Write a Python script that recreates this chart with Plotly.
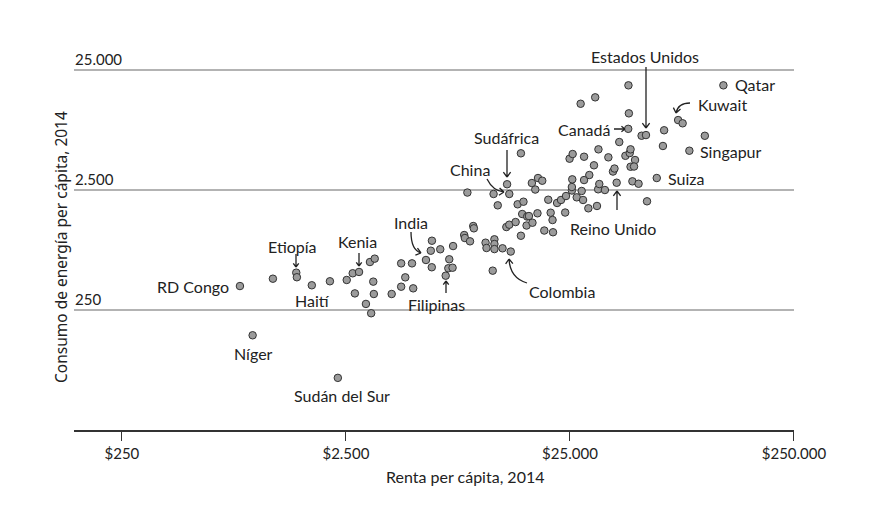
import math
import plotly.graph_objects as go

# Renta per cápita (USD) y consumo de energía per cápita (kg equiv. petróleo), 2014
renta = [
    841, 958, 1180, 1500, 1510, 1760, 2120, 2300, 2520, 2680,
    2860, 3200, 3360, 3310, 2740, 3330, 3070, 3240, 4000, 4410,
    4990, 4600, 4410, 4930, 5690, 6040, 5980, 6050, 6590, 7230,
    7160, 7480, 6970, 7520, 8430, 8490, 8950, 9250, 9310, 8710,
    10500, 10600, 11500, 11500, 11500, 12500, 13600, 11300, 11400, 11900,
    13100, 13400, 13000, 13400, 14300, 15100, 15100, 14600, 15500, 15300,
    16100, 16400, 17900, 16000, 17000, 16900, 17500, 18000, 18800, 19200,
    21000, 20000, 20500, 20900, 21900, 22800, 24000, 23800, 25500, 25500,
    26800, 28200, 28600, 25600, 30200, 33000, 24900, 25700, 28900, 32000,
    33500, 37100, 41500, 28900, 30500, 33400, 33800, 35800, 38900, 39500,
    40400, 44200, 46200, 46600, 48800, 46600, 48300, 47500, 50600, 55200,
    61000, 45600, 27900, 32400, 45800, 45500, 52200, 54600, 65800, 65000,
    76000, 79600, 100000, 85300, 121000,
]
consumo = [
    396, 154, 456, 512, 469, 402, 434, 68, 445, 506,
    519, 628, 670, 431, 344, 340, 281, 235, 340, 391,
    379, 468, 612, 612, 653, 568, 780, 945, 802, 662,
    557, 563, 483, 853, 1054, 995, 934, 1253, 1199, 2382,
    910, 822, 971, 887, 805, 817, 768, 532, 2317, 1864,
    2793, 2317, 1229, 1285, 1352, 1040, 5058, 1901, 1998, 1578,
    1503, 1517, 1600, 1265, 1335, 2858, 2523, 3148, 2989, 1149,
    1112, 2075, 1618, 1406, 1950, 2065, 2228, 1623, 2477, 2649,
    2173, 2455, 2065, 3069, 1760, 1841, 4560, 4989, 4738, 4018,
    5458, 4683, 6281, 3027, 3334, 2535, 2805, 2500, 3565, 3776,
    2877, 4822, 5082, 5458, 4446, 3908, 3926, 2954, 2821, 2014,
    3148, 18640, 13092, 14808, 10889, 8091, 7087, 7178, 7870, 5821,
    9572, 8995, 7079, 5316, 18640,
]

x_ticks = [250, 2500, 25000, 250000]
x_ticktext = ["$250", "$2.500", "$25.000", "$250.000"]
y_ticks = [25, 250, 2500, 25000]
y_ticktext = ["25", "250", "2.500", "25.000"]

W, H = 869, 508
L, R, T, B = 74, 75, 50, 78
FONT = "Lato, 'Noto Sans', sans-serif"
INK = "#222222"


def pp(px, py):
    # pixel -> paper coordinates
    return (px - L) / (W - L - R), (H - B - py) / (H - T - B)


fig = go.Figure()
fig.add_trace(go.Scatter(
    x=renta, y=consumo, mode="markers",
    marker=dict(size=7.5, color="#9b9b9b", line=dict(color="#333333", width=1)),
    hoverinfo="x+y", showlegend=False,
))

annotations = []
for v, t in zip(y_ticks, y_ticktext):
    annotations.append(dict(xref="paper", yref="y", x=0, y=math.log10(v), text=t,
                            xanchor="left", yanchor="bottom", xshift=-1, yshift=0,
                            showarrow=False, font=dict(size=15, color=INK, family=FONT)))

labels = [
    ("Estados Unidos", 645, 57, "center"),
    ("Qatar", 733, 85, "left"),
    ("Kuwait", 696, 104, "left"),
    ("Canadá", 612, 129, "right"),
    ("Singapur", 698, 151, "left"),
    ("Sudáfrica", 506, 137, "center"),
    ("China", 470, 169, "center"),
    ("Suiza", 666, 178, "left"),
    ("Reino Unido", 613, 228, "center"),
    ("India", 411, 222, "center"),
    ("Etiopía", 292, 246, "center"),
    ("Kenia", 357, 241, "center"),
    ("RD Congo", 231, 286, "right"),
    ("Haití", 312, 300, "center"),
    ("Filipinas", 436, 304, "center"),
    ("Colombia", 562, 291, "center"),
    ("Níger", 253, 353, "center"),
    ("Sudán del Sur", 342, 395, "center"),
]
for text, px, py, xa in labels:
    x, y = pp(px, py)
    annotations.append(dict(xref="paper", yref="paper", x=x, y=y, text=text,
                            xanchor=xa, yanchor="middle", showarrow=False,
                            font=dict(size=16, color=INK, family=FONT)))

# axis titles
x, y = pp(466, 476)
annotations.append(dict(xref="paper", yref="paper", x=x, y=y, text="Renta per cápita, 2014",
                        xanchor="center", yanchor="middle", showarrow=False,
                        font=dict(size=16, color=INK, family=FONT)))
x, y = pp(61, 247)
annotations.append(dict(xref="paper", yref="paper", x=x, y=y, text="Consumo de energía per cápita, 2014",
                        textangle=-90, xanchor="center", yanchor="middle", showarrow=False,
                        font=dict(size=15.5, color=INK, family="'Noto Sans', Lato, sans-serif")))

# arrows: (start, control or None, tip, head length) in pixels
arrows = [
    ((646, 67), None, (646, 128), 6),
    ((617, 210), None, (617, 191), 6),
    ((507, 150), None, (507, 177), 6),
    ((487, 179), (493, 191), (504, 192), 6),
    ((411, 232), (411, 250), (421, 253), 6),
    ((527, 283), (510, 278), (509, 259), 6),
    ((690, 103), (678, 103), (676, 113), 6),
    ((296, 254), None, (296, 267), 4.5),
    ((359, 253), None, (359, 266), 4.5),
    ((446, 293), None, (446, 281), 4.5),
    ((614, 129), None, (625, 129), 4.5),
]
shapes = []
for s, c, t, hl in arrows:
    a = pp(*s)
    b = pp(*t)
    if c is None:
        path = f"M{a[0]},{a[1]} L{b[0]},{b[1]}"
        ref = s
    else:
        cc = pp(*c)
        path = f"M{a[0]},{a[1]} Q{cc[0]},{cc[1]} {b[0]},{b[1]}"
        ref = c
    dx, dy = t[0] - ref[0], t[1] - ref[1]
    n = math.hypot(dx, dy)
    dx, dy = dx / n, dy / n
    for ang in (0.65, -0.65):
        hx = -(dx * math.cos(ang) - dy * math.sin(ang)) * hl
        hy = -(dx * math.sin(ang) + dy * math.cos(ang)) * hl
        h = pp(t[0] + hx, t[1] + hy)
        path += f" M{b[0]},{b[1]} L{h[0]},{h[1]}"
    shapes.append(dict(type="path", xref="paper", yref="paper", path=path,
                       line=dict(color=INK, width=1.3)))

fig.update_layout(
    width=W, height=H,
    margin=dict(l=L, r=R, t=T, b=B),
    paper_bgcolor="white", plot_bgcolor="white",
    showlegend=False,
    annotations=annotations,
    shapes=shapes,
    xaxis=dict(type="log", range=[2.184, 5.398], tickvals=x_ticks, ticktext=x_ticktext,
               showgrid=False, showline=True, linecolor="#333333", linewidth=1.5,
               ticks="outside", ticklen=9, tickcolor="#333333", tickwidth=1.3,
               tickfont=dict(size=15, color=INK, family=FONT), zeroline=False),
    yaxis=dict(type="log", range=[1.398, 4.565], tickvals=y_ticks, showticklabels=False,
               showgrid=True, gridcolor="#b3b3b3", gridwidth=1.5, zeroline=False,
               showline=False, ticks=""),
)

fig.write_html("out.html", config={"displayModeBar": False},
               post_script="document.body.style.margin='0';")
